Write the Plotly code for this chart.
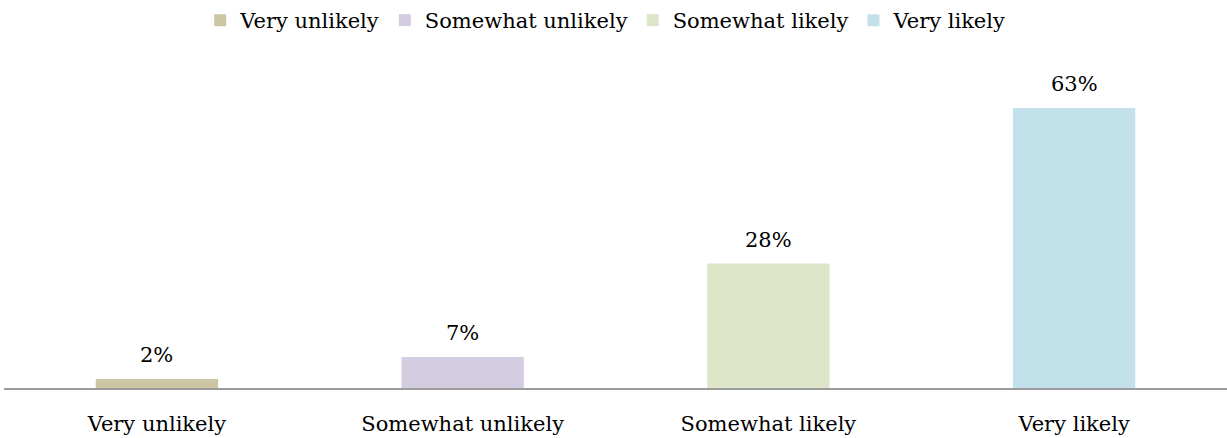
import plotly.graph_objects as go

categories = ["Very unlikely", "Somewhat unlikely", "Somewhat likely", "Very likely"]
values = [2, 7, 28, 63]
labels = ["2%", "7%", "28%", "63%"]
colors = ["#CDC6A3", "#D4CCE0", "#DDE6C9", "#C2E1EA"]

FONT = "DejaVu Serif"
FS = 21

fig = go.Figure()
for c, v, col in zip(categories, values, colors):
    fig.add_trace(go.Bar(
        x=[c], y=[v], name=c,
        marker=dict(color=col, line=dict(width=0)),
        width=0.4,
    ))

for c, v, t in zip(categories, values, labels):
    fig.add_annotation(x=c, y=v, text=t, showarrow=False, yanchor="bottom",
                       yshift=10, font=dict(family=FONT, size=FS, color="#000000"))

fig.update_layout(
    width=1227, height=438,
    margin=dict(l=4, r=0, t=59, b=50),
    paper_bgcolor="white", plot_bgcolor="white",
    barmode="overlay",
    font=dict(family=FONT, size=FS, color="#000000"),
    showlegend=True,
    legend=dict(orientation="h", x=0.492, xanchor="center", y=1.0, yanchor="top",
                yref="container", font=dict(family=FONT, size=FS),
                itemwidth=30, tracegroupgap=0),
    xaxis=dict(categoryorder="array", categoryarray=categories,
               showline=True, linecolor="#9B9B9B", linewidth=2,
               showgrid=False, ticks="", tickfont=dict(family=FONT, size=FS),
               ticklabelstandoff=16, automargin=False, fixedrange=True),
    yaxis=dict(range=[0, 74], visible=False, showgrid=False, zeroline=False,
               fixedrange=True),
)

fig.write_html("out.html", config={"displayModeBar": False},
               post_script="document.body.style.margin='0';")
